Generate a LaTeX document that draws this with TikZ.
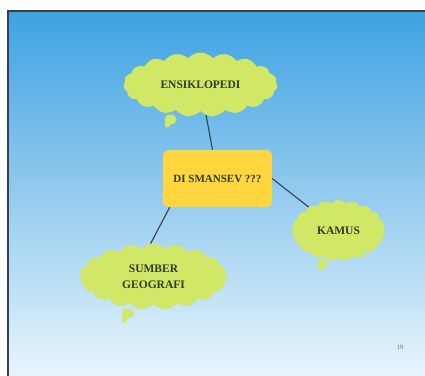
\documentclass[tikz,border=0pt]{standalone}
\usepackage{fontspec}
\setmainfont{Liberation Serif}
\usepackage{tikz}
\usetikzlibrary{shapes.symbols,positioning}
\definecolor{skytop}{RGB}{62,162,226}
\definecolor{skymid}{RGB}{170,212,240}
\definecolor{skybot}{RGB}{232,244,251}
\definecolor{framegray}{RGB}{58,62,82}
\definecolor{puffgreen}{RGB}{208,232,102}
\definecolor{boxyellow}{RGB}{255,214,62}
\definecolor{inkgreen}{RGB}{48,58,38}
\tikzset{
  bubble/.style={cloud, cloud puffs=19, cloud puff arc=100, cloud ignores aspect,
    fill=puffgreen, inner sep=0pt, text=inkgreen, align=center,
    font=\fontsize{11.5}{16}\selectfont\bfseries},
  link/.style={draw=framegray, line width=1.1pt}
}

\begin{document}
\begin{tikzpicture}[x=1pt,y=-1pt]
      \useasboundingbox (0,0) rectangle (425,375);
      \fill[white] (0,0) rectangle (425,375);
      \shade[top color=skytop, middle color=skymid, bottom color=skybot] (8,11) rectangle (425,375);
      \draw[framegray, line width=1.6pt] (8,380) -- (8,11) -- (430,11);

      \node (dis) at (217.5,178.5) [fill=boxyellow, rounded corners=6pt, minimum width=109pt, minimum height=57pt, text=inkgreen, font=\fontsize{11}{13}\selectfont\bfseries] {DI SMANSEV ???};
      \node (ens)[bubble, on grid, above left=94pt and 17pt of dis, minimum width=154pt, minimum height=64pt] {ENSIKLOPEDI};
      \node (kam)[bubble, on grid, below right=52pt and 121pt of dis, minimum width=93pt, minimum height=61pt] {KAMUS};
      \node (sum)[bubble, on grid, below left=98pt and 64pt of dis, minimum width=147pt, minimum height=66pt] {SUMBER\\GEOGRAFI};

      % small puffs under the clouds
      \fill[puffgreen] ([shift={(-30,35)}]ens.center) ellipse (6pt and 5pt);
      \fill[puffgreen] ([shift={(-33,40)}]ens.center) circle (3pt);
      \fill[puffgreen] ([shift={(-16,33)}]kam.center) ellipse (5pt and 4.5pt);
      \fill[puffgreen] ([shift={(-17,38)}]kam.center) circle (2.5pt);
      \fill[puffgreen] ([shift={(-26,37)}]sum.center) ellipse (6pt and 5pt);
      \fill[puffgreen] ([shift={(-29,43)}]sum.center) circle (3pt);

      \draw[link] (ens) -- (dis.100);
      \draw[link] (dis.east) -- (kam);
      \draw[link] (dis.211) -- (sum.95);

      \node (page) at (400,347) [text=gray!80!black, font=\fontsize{6.5}{7}\selectfont] {19};
\end{tikzpicture}
\end{document}
